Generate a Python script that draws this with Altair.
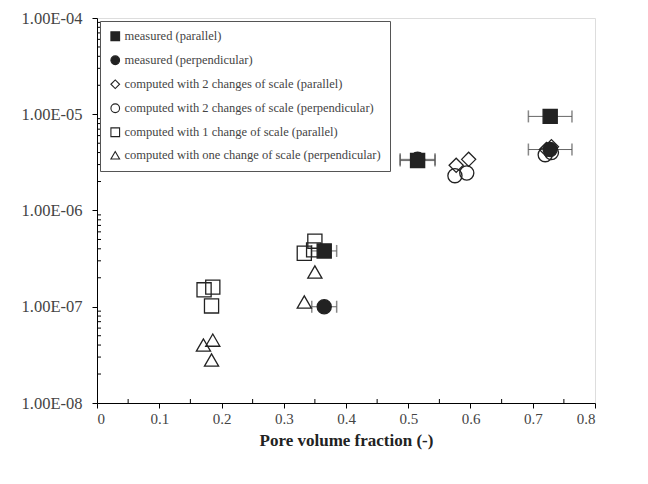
import altair as alt
import pandas as pd

# ---- data ----
series_names = [
    "measured (parallel)",
    "measured (perpendicular)",
    "computed with 2 changes of scale (parallel)",
    "computed with 2 changes of scale (perpendicular)",
    "computed with 1 change of scale (parallel)",
    "computed with one change of scale (perpendicular)",
]

meas_par_x = [0.365, 0.515, 0.728]
meas_par_y = [3.8e-7, 3.3e-6, 9.5e-6]
meas_perp_x = [0.365, 0.515, 0.728]
meas_perp_y = [1.0e-7, 3.4e-6, 4.3e-6]
err_par_half = [0.02, 0.028, 0.035]
err_perp_half = [0.02, 0.028, 0.035]

c2_par_x = [0.577, 0.597, 0.722, 0.73]
c2_par_y = [2.95e-6, 3.4e-6, 4.3e-6, 4.6e-6]
c2_perp_x = [0.575, 0.594, 0.72, 0.73]
c2_perp_y = [2.3e-6, 2.45e-6, 3.8e-6, 4.0e-6]

c1_par_x = [0.172, 0.186, 0.184, 0.333, 0.35, 0.348]
c1_par_y = [1.5e-7, 1.6e-7, 1.02e-7, 3.6e-7, 4.8e-7, 3.9e-7]

c1_perp_x = [0.171, 0.186, 0.184, 0.333, 0.35]
c1_perp_y = [4.0e-8, 4.5e-8, 2.8e-8, 1.12e-7, 2.3e-7]

x_ticks = [0, 0.1, 0.2, 0.3, 0.4, 0.5, 0.6, 0.7, 0.8]
y_ticks = [1e-8, 1e-7, 1e-6, 1e-5, 1e-4]

# ---- tables ----
rows = []
order = [
    (series_names[4], c1_par_x, c1_par_y),
    (series_names[5], c1_perp_x, c1_perp_y),
    (series_names[2], c2_par_x, c2_par_y),
    (series_names[3], c2_perp_x, c2_perp_y),
    (series_names[1], meas_perp_x, meas_perp_y),
    (series_names[0], meas_par_x, meas_par_y),
]
for k, (name, xs, ys) in enumerate(order):
    for i, (x, y) in enumerate(zip(xs, ys)):
        rows.append({"series": name, "x": x, "y": y, "ord": k * 10 + i})
pts = pd.DataFrame(rows)

err_rows = []
for xs, ys, hs in [(meas_par_x, meas_par_y, err_par_half), (meas_perp_x, meas_perp_y, err_perp_half)]:
    for x, y, h in zip(xs, ys, hs):
        err_rows.append({"x": x, "y": y, "xmin": x - h, "xmax": x + h})
err = pd.DataFrame(err_rows)
caps = pd.concat([
    err[["y", "xmin"]].rename(columns={"xmin": "x"}),
    err[["y", "xmax"]].rename(columns={"xmax": "x"}),
])

minor = []
for e in range(-8, -4):
    for m in range(2, 10):
        minor.append({"y": m * 10 ** e})
minor_df = pd.DataFrame(minor)
xminor_df = pd.DataFrame({"x": [i * 0.05 for i in range(1, 16) if i % 2 == 1]})

FONT = "Liberation Serif"

xscale = alt.Scale(domain=[0, 0.8], nice=False)
yscale = alt.Scale(type="log", domain=[1e-8, 1e-4], nice=False)

X = alt.X("x:Q", scale=xscale,
          axis=alt.Axis(values=x_ticks, title="Pore volume fraction (-)", grid=False,
                        labelExpr="datum.value == 0 ? '0' : format(datum.value, '.1f')",
                        labelFont=FONT, labelFontSize=15, labelColor="#444",
                        titleFont=FONT, titleFontSize=17, titleFontWeight="bold",
                        titleColor="#222", titlePadding=6, tickSize=5, domainColor="black",
                        tickColor="black", labelPadding=3))
Y = alt.Y("y:Q", scale=yscale,
          axis=alt.Axis(values=y_ticks, title=None, grid=False,
                        labelExpr="'1.00E-0' + (-round(log(datum.value)/LN10))",
                        labelFont=FONT, labelFontSize=16.5, labelColor="#444",
                        tickSize=5, domainColor="black", tickColor="black", labelPadding=10))

shape_range = ["square", "circle", "diamond", "circle", "square", "triangle-up"]
fill_range = ["#222", "#222", "rgba(255,255,255,0)", "rgba(255,255,255,0)",
              "rgba(255,255,255,0)", "rgba(255,255,255,0)"]
stroke_range = ["#222"] * 6

def legend():
    return alt.Legend(title=None, orient="none", legendX=3, legendY=3,
                      labelFont=FONT, labelFontSize=12.5, labelColor="#444",
                      symbolSize=75, symbolStrokeWidth=1.1, rowPadding=10,
                      strokeColor="#555", padding=9, fillColor="white",
                      labelLimit=400, labelOffset=3)

err_lines = alt.Chart(err).mark_rule(color="#666", strokeWidth=1).encode(
    x=alt.X("xmin:Q", scale=xscale), x2="xmax:Q", y=alt.Y("y:Q", scale=yscale))
err_caps = alt.Chart(caps).mark_tick(color="#555", thickness=1.5, size=12, orient="vertical").encode(
    x=alt.X("x:Q", scale=xscale), y=alt.Y("y:Q", scale=yscale))

points = alt.Chart(pts).mark_point(strokeWidth=1.3, size=200, opacity=1).encode(
    x=X, y=Y,
    shape=alt.Shape("series:N", scale=alt.Scale(domain=series_names, range=shape_range), legend=legend()),
    fill=alt.Fill("series:N", scale=alt.Scale(domain=series_names, range=fill_range), legend=legend()),
    stroke=alt.Stroke("series:N", scale=alt.Scale(domain=series_names, range=stroke_range), legend=legend()),
    order=alt.Order("ord:Q"),
)

yminor = alt.Chart(minor_df).mark_rule(color="black", strokeWidth=1).encode(
    x=alt.value(0), x2=alt.value(4), y=alt.Y("y:Q", scale=yscale))
xminor = alt.Chart(xminor_df).mark_rule(color="black", strokeWidth=1).encode(
    x=alt.X("x:Q", scale=xscale), y=alt.value(385), y2=alt.value(381))

chart = alt.layer(yminor, xminor, err_lines, err_caps, points).properties(
    width=498, height=385, autosize="none",
    padding={"left": 89, "top": 10, "right": 40, "bottom": 73},
).configure_view(stroke="black", strokeWidth=1).configure(background="white")

chart.save("out.html", embed_options={"renderer": "svg", "actions": False})
